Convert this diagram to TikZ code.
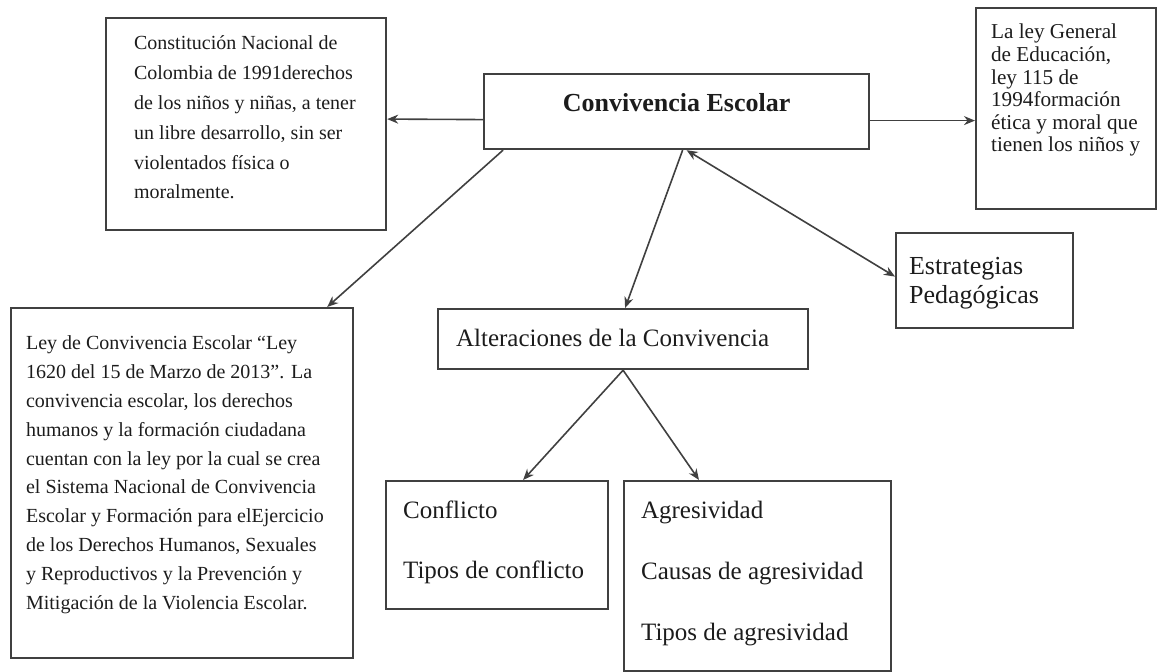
\documentclass[tikz,border=0pt]{standalone}
\usepackage{fontspec}
\setmainfont{Liberation Serif}
\usetikzlibrary{arrows.meta}
\definecolor{boxline}{HTML}{404040}
\definecolor{boxtext}{HTML}{1C1C1C}

\begin{document}
\begin{tikzpicture}[x=0.5pt, y=-0.5pt,
	box/.style={draw=boxline, line width=1.1pt, anchor=north west, text=boxtext},
	link/.style={draw=boxline, line width=0.8pt, -{Stealth[length=5.5pt,width=4.5pt]}}]
	\useasboundingbox (0,0) rectangle (1158,672);

	\node[box, inner xsep=9.5pt, inner ysep=9.5pt] (conv) at (483,73)
		{\parbox[t][18.5pt][t]{173.5pt}{\centering\fontsize{13}{15}\selectfont\bfseries Convivencia Escolar}};
	\node[box, inner xsep=14pt, inner ysep=9pt] (const) at (105,17)
		{\parbox[t][88pt][t]{112pt}{\raggedright\fontsize{10}{14.9}\selectfont
		Constitución Nacional de\\ Colombia de 1991derechos\\ de los niños y niñas, a tener\\
		un libre desarrollo, sin ser\\ violentados física o\\ moralmente.}};
	\node[box, inner xsep=7.5pt, inner ysep=8pt] (general) at (975,7)
		{\parbox[t][84.5pt][t]{75pt}{\raggedright\fontsize{10.6}{11.3}\selectfont
		La ley General\\ de Educación,\\ ley 115 de\\ 1994formación\\ ética y moral que\\ tienen los niños y}};
	\node[box, inner xsep=7.5pt, inner ysep=14pt] (leyconv) at (10,307)
		{\parbox[t][147pt][t]{156pt}{\raggedright\fontsize{10}{14.4}\selectfont
		Ley de Convivencia Escolar “Ley\\ 1620 del 15 de Marzo de 2013”. La\\
		convivencia escolar, los derechos\\ humanos y la formación ciudadana\\
		cuentan con la ley por la cual se crea\\ el Sistema Nacional de Convivencia\\
		Escolar y Formación para elEjercicio\\ de los Derechos Humanos, Sexuales\\
		y Reproductivos y la Prevención y\\ Mitigación de la Violencia Escolar.}};
	\node[box, inner xsep=9pt, inner ysep=10pt] (alter) at (437,308)
		{\parbox[t][10pt][t]{167pt}{\raggedright\fontsize{12.5}{15}\selectfont Alteraciones de la Convivencia}};
	\node[box, inner xsep=6.5pt, inner ysep=12pt] (estrat) at (895,232)
		{\parbox[t][23.5pt][t]{75.5pt}{\raggedright\fontsize{13}{14.5}\selectfont Estrategias\\ Pedagógicas}};
	\node[box, inner xsep=8.5pt, inner ysep=10pt] (conflicto) at (385,480)
		{\parbox[t][44pt][t]{94pt}{\raggedright\fontsize{12.5}{30}\selectfont Conflicto\\ Tipos de conflicto}};
	\node[box, inner xsep=8.5pt, inner ysep=10pt] (agres) at (623,480)
		{\parbox[t][75pt][t]{116.5pt}{\raggedright\fontsize{12.5}{30.5}\selectfont Agresividad\\ Causas de agresividad\\ Tipos de agresividad}};

	\draw[link] ([yshift=-4pt]conv.west) -- ([yshift=2.5pt]const.east);
	\draw[link] ([yshift=-4.5pt]conv.east) -- ([yshift=-6pt]general.west);
	\draw[link] ([xshift=10pt]conv.south west) -- ([xshift=-13.5pt]leyconv.north east);
	\draw[link] ([xshift=3pt]conv.south) -- ([xshift=1pt]alter.north);
	\draw[link, {Stealth[length=5.5pt,width=4.5pt]}-{Stealth[length=5.5pt,width=4.5pt]}] ([xshift=5pt]conv.south) -- ([yshift=2pt]estrat.west);
	\draw[link] (alter.south) -- ([xshift=13pt]conflicto.north);
	\draw[link] (alter.south) -- ([xshift=38pt]agres.north west);
\end{tikzpicture}
\end{document}
